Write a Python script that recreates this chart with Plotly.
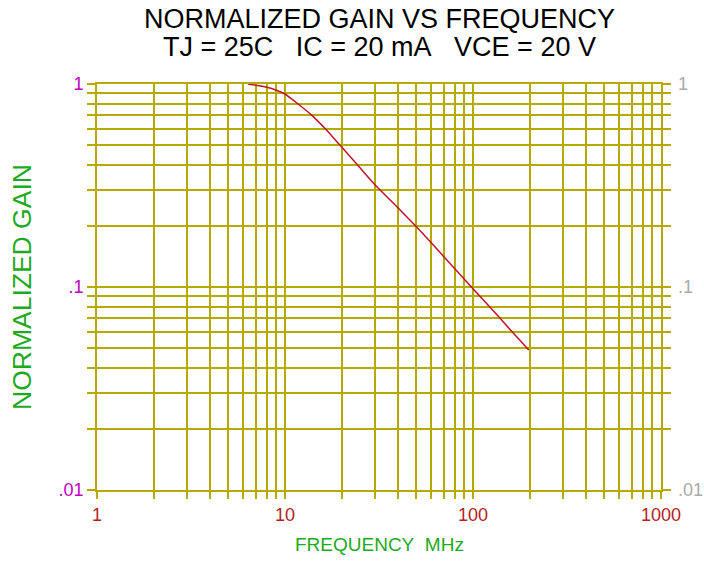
import math
import plotly.graph_objects as go

# Data
freq_mhz = [6.35, 7.0, 8.0, 9.0, 10.0, 11.3, 13.8, 16.3, 19.6, 24.0, 30.0, 40.0, 50.0, 60.0, 70.0, 100.0, 136.0, 157.0, 198.0]
norm_gain = [1.0, 0.985, 0.963, 0.932, 0.893, 0.82, 0.705, 0.605, 0.50, 0.405, 0.32, 0.245, 0.198, 0.165, 0.141, 0.098, 0.072, 0.062, 0.049]

x_tickvals = [1, 10, 100, 1000]
x_ticktext = ["1", "10", "100", "1000"]
y_tickvals = [0.01, 0.1, 1]
y_ticktext = [".01", ".1", "1"]

grid = "rgb(181,170,0)"
font = "Liberation Sans, Arial, sans-serif"

x_minor = [m * d for d in (1, 10, 100) for m in range(2, 10)]
y_minor = [m * d for d in (0.01, 0.1) for m in range(2, 10)]

# all grid lines as ticks, labels only at decades
x_all = x_tickvals + x_minor
x_all_text = x_ticktext + [""] * len(x_minor)
y_all = y_tickvals + y_minor
y_all_text = y_ticktext + [""] * len(y_minor)

fig = go.Figure()
fig.add_trace(go.Scatter(x=freq_mhz, y=norm_gain, mode="lines",
                         line=dict(color="rgb(190,20,40)", width=1.5,
                                   shape="spline", smoothing=0.6),
                         showlegend=False))

annotations = [
    dict(text="NORMALIZED GAIN VS FREQUENCY", xref="paper", yref="paper",
         x=0.5, y=1.160, xanchor="center", yanchor="middle", showarrow=False,
         font=dict(size=27, color="black", family=font)),
    dict(text="TJ = 25C\u00a0\u00a0\u00a0IC = 20 mA\u00a0\u00a0\u00a0VCE = 20 V",
         xref="paper", yref="paper",
         x=0.5, y=1.090, xanchor="center", yanchor="middle", showarrow=False,
         font=dict(size=27, color="black", family=font)),
    dict(text="NORMALIZED GAIN", xref="paper", yref="paper", textangle=-90,
         x=-0.133, y=0.5, xanchor="center", yanchor="middle", showarrow=False,
         font=dict(size=26.5, color="rgb(30,170,30)", family=font)),
    dict(text="FREQUENCY\u00a0\u00a0MHz", xref="paper", yref="paper",
         x=0.5, y=-0.135, xanchor="center", yanchor="middle", showarrow=False,
         font=dict(size=19, color="rgb(30,170,30)", family=font)),
]
# right-hand gray tick labels
for v, t in zip(y_tickvals, y_ticktext):
    annotations.append(dict(text=t, xref="paper", yref="y", x=1.027, y=math.log10(v),
                            xanchor="left", yanchor="middle", showarrow=False,
                            font=dict(size=18, color="rgb(170,170,170)", family=font)))

fig.update_layout(
    width=704, height=561,
    margin=dict(l=97, r=43, t=84, b=71),
    paper_bgcolor="white", plot_bgcolor="white",
    font=dict(family=font),
    xaxis=dict(type="log", range=[0, 3], tickmode="array",
               tickvals=x_all, ticktext=x_all_text, automargin=False,
               tickfont=dict(size=18, color="rgb(180,30,30)"),
               showgrid=True, gridcolor=grid, gridwidth=1.5,
               ticks="outside", ticklen=7, tickcolor=grid, tickwidth=1.5,
               showline=True, linecolor=grid, linewidth=2, mirror=True,
               zeroline=False),
    yaxis=dict(type="log", range=[-2, 0], tickmode="array",
               tickvals=y_all, ticktext=y_all_text, automargin=False,
               tickfont=dict(size=18, color="rgb(190,0,190)"),
               showgrid=True, gridcolor=grid, gridwidth=1.5,
               ticks="outside", ticklen=8, tickcolor=grid, tickwidth=1.5,
               showline=True, linecolor=grid, linewidth=1.6, mirror="allticks",
               zeroline=False),
    annotations=annotations,
)

fig.write_html("out.html", config={"displayModeBar": False},
               post_script="document.body.style.margin='0';document.body.style.padding='0';")
